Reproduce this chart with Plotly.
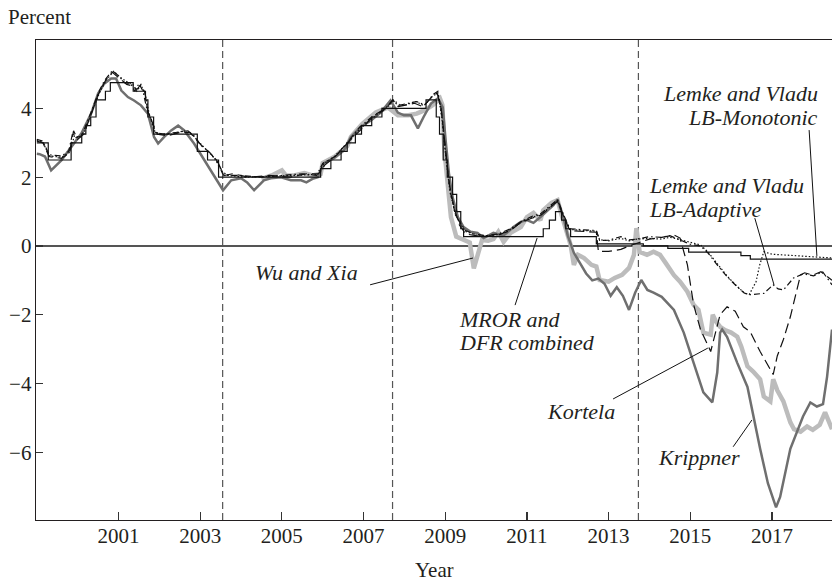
import plotly.graph_objects as go

# ---------------- data ----------------
x_ticks = [2001, 2003, 2005, 2007, 2009, 2011, 2013, 2015, 2017]
y_ticks = [-6, -4, -2, 0, 2, 4]
event_years = [2003.55, 2007.71, 2013.73]

kripp_year = [1999.0, 1999.07, 1999.2, 1999.35, 1999.6, 1999.84, 2000.09, 2000.33, 2000.5, 2000.65,
              2000.82, 2000.94, 2001.07, 2001.23, 2001.38, 2001.55, 2001.72, 2001.87, 2001.97, 2002.12,
              2002.29, 2002.46, 2002.61, 2002.85, 2003.1, 2003.35, 2003.56, 2003.76, 2004.0, 2004.15,
              2004.32, 2004.56, 2004.73, 2004.98, 2005.22, 2005.47, 2005.6, 2005.75, 2005.88, 2006.03,
              2006.27, 2006.52, 2006.69, 2006.93, 2007.18, 2007.42, 2007.66, 2007.84, 2007.99, 2008.16,
              2008.33, 2008.47, 2008.65, 2008.82, 2008.94, 2009.01, 2009.09, 2009.18, 2009.31, 2009.45,
              2009.62, 2009.79, 2009.94, 2010.18, 2010.43, 2010.67, 2010.85, 2011.0, 2011.16, 2011.33,
              2011.5, 2011.65, 2011.75, 2011.9, 2012.0, 2012.15, 2012.3, 2012.45, 2012.6, 2012.75,
              2012.9, 2013.05, 2013.2, 2013.35, 2013.5, 2013.65, 2013.8, 2013.95, 2014.1, 2014.3,
              2014.6, 2014.84, 2015.08, 2015.32, 2015.54, 2015.66, 2015.73, 2015.78, 2015.9, 2016.15,
              2016.4, 2016.54, 2016.71, 2016.9, 2017.1, 2017.2, 2017.45, 2017.76, 2017.94, 2018.1,
              2018.25, 2018.35, 2018.47]
kripp_val = [2.68, 2.67, 2.6, 2.2, 2.49, 2.87, 3.27, 3.85, 4.43, 4.72,
             4.87, 4.87, 4.52, 4.33, 4.23, 4.09, 3.85, 3.17, 2.98, 3.17,
             3.36, 3.5, 3.36, 2.98, 2.49, 2.0, 1.62, 1.91, 1.97, 1.85,
             1.62, 1.91, 1.97, 2.0, 1.91, 1.91, 1.85, 1.95, 2.0, 2.41,
             2.55, 2.78, 3.17, 3.46, 3.65, 3.88, 4.23, 3.88, 3.8, 3.8,
             3.42, 3.75, 4.14, 4.29, 4.03, 3.07, 2.12, 1.42, 0.84, 0.55,
             0.41, 0.38, 0.23, 0.38, 0.3, 0.55, 0.7, 0.75, 0.67, 0.84,
             1.04, 1.19, 1.35, 0.8, 0.3, -0.2, -0.5, -0.8, -1.0, -0.95,
             -1.1, -1.45, -1.2, -1.45, -1.86, -1.36, -0.99, -1.28, -1.36, -1.48,
             -1.86, -2.52, -3.39, -4.26, -4.55, -3.68, -2.52, -2.43, -2.64, -3.4,
             -4.1, -4.96, -5.9, -6.9, -7.6, -7.3, -5.9, -4.96, -4.55, -4.67,
             -4.6, -3.8, -2.43]

wuxia_year = [2004.5, 2004.75, 2005.0, 2005.1, 2005.3, 2005.55, 2005.75, 2005.95, 2006.0, 2006.3,
              2006.6, 2006.69, 2006.97, 2007.3, 2007.6, 2007.84, 2008.1, 2008.3, 2008.5, 2008.7,
              2008.87, 2008.93, 2008.98, 2009.06, 2009.14, 2009.27, 2009.48, 2009.6, 2009.7, 2009.78,
              2009.9, 2010.05, 2010.18, 2010.3, 2010.43, 2010.6, 2010.85, 2011.0, 2011.16, 2011.33,
              2011.4, 2011.6, 2011.75, 2011.85, 2011.95, 2012.07, 2012.15, 2012.25, 2012.4, 2012.58,
              2012.7, 2012.78, 2013.0, 2013.15, 2013.33, 2013.5, 2013.62, 2013.68, 2013.76, 2013.94,
              2014.1, 2014.26, 2014.4, 2014.6, 2014.75, 2014.93, 2015.08, 2015.2, 2015.32, 2015.5,
              2015.55, 2015.63, 2015.73, 2015.85, 2016.0, 2016.15, 2016.25, 2016.4, 2016.54, 2016.71,
              2016.8, 2016.96, 2017.03, 2017.13, 2017.28, 2017.45, 2017.54, 2017.7, 2017.86, 2018.0,
              2018.17, 2018.3, 2018.47]
wuxia_val = [1.95, 2.05, 2.2, 2.05, 2.05, 2.12, 2.05, 2.1, 2.41, 2.6,
             2.9, 3.17, 3.55, 3.88, 4.03, 3.8, 3.8, 3.85, 3.95, 4.1,
             4.29, 4.1, 2.78, 1.83, 0.84, 0.27, 0.17, 0.1, -0.65, -0.3,
             0.17, 0.15, 0.2, 0.41, 0.12, 0.38, 0.55, 0.84, 0.96, 0.75,
             1.04, 1.25, 1.33, 0.9, 0.52, 0.03, -0.55, -0.26, -0.35, -0.55,
             -0.6, -0.99, -1.04, -0.93, -0.84, -0.64, -0.26, 0.52, -0.17, -0.26,
             -0.17, -0.26, -0.5, -0.85, -1.04, -1.33, -1.71, -1.86, -2.52, -2.58,
             -2.0, -2.2, -2.35, -2.45, -2.52, -2.64, -2.93, -3.5, -3.65, -3.88,
             -4.38, -4.52, -3.88, -4.2, -4.52, -5.13, -5.33, -5.4, -5.25, -5.35,
             -5.2, -4.84, -5.33]

mror_year = [1999.0, 1999.28, 1999.84, 2000.1, 2000.2, 2000.32, 2000.45, 2000.68, 2000.8, 2001.36,
             2001.66, 2001.72, 2001.86, 2002.93, 2003.18, 2003.45, 2005.95, 2006.2, 2006.45, 2006.6,
             2006.8, 2006.95, 2007.2, 2007.45, 2008.53, 2008.78, 2008.86, 2008.95, 2009.05, 2009.18,
             2009.28, 2009.38, 2009.45, 2011.4, 2011.55, 2011.7, 2011.85, 2011.95, 2012.07, 2012.7,
             2013.85, 2014.45, 2014.96, 2016.24, 2016.47, 2018.47]
mror_val = [3.0, 2.5, 3.0, 3.25, 3.5, 3.75, 4.25, 4.5, 4.75, 4.5,
            4.25, 3.75, 3.25, 2.75, 2.5, 2.0, 2.25, 2.5, 2.75, 3.0,
            3.25, 3.5, 3.75, 4.0, 4.25, 3.75, 3.25, 2.5, 2.0, 1.5,
            1.0, 0.5, 0.27, 0.5, 0.75, 1.0, 0.75, 0.5, 0.27, 0.06,
            0.0, -0.07, -0.18, -0.28, -0.38, -0.38]

kortela_year = [1999.0, 1999.15, 1999.3, 1999.6, 1999.8, 1999.9, 2000.0, 2000.15, 2000.35, 2000.5,
                2000.7, 2000.85, 2001.0, 2001.2, 2001.35, 2001.45, 2001.55, 2001.65, 2001.72, 2001.85,
                2001.95, 2002.2, 2002.5, 2002.75, 2002.9, 2003.05, 2003.25, 2003.45, 2003.58, 2003.8,
                2004.2, 2004.7, 2005.2, 2005.6, 2005.9, 2006.05, 2006.35, 2006.65, 2006.95, 2007.25,
                2007.55, 2007.72, 2007.85, 2008.05, 2008.25, 2008.45, 2008.65, 2008.8, 2008.9, 2009.0,
                2009.1, 2009.22, 2009.35, 2009.5, 2009.75, 2010.0, 2010.3, 2010.6, 2010.85, 2011.1,
                2011.35, 2011.55, 2011.75, 2011.9, 2012.05, 2012.4, 2012.7, 2012.75, 2013.0, 2013.3,
                2013.5, 2013.75, 2014.0, 2014.3, 2014.6, 2014.75, 2014.82, 2014.93, 2015.08, 2015.25,
                2015.5, 2015.66, 2015.73, 2015.9, 2016.1, 2016.3, 2016.47, 2016.71, 2016.96, 2017.03,
                2017.13, 2017.28, 2017.45, 2017.62, 2017.7, 2017.8, 2018.0, 2018.2, 2018.47]
kortela_val = [3.05, 3.0, 2.6, 2.55, 2.7, 3.35, 3.1, 3.25, 3.9, 4.4,
               4.85, 5.05, 4.9, 4.7, 4.65, 4.55, 4.7, 4.45, 3.9, 3.5,
               3.25, 3.2, 3.3, 3.3, 3.1, 2.9, 2.7, 2.4, 2.05, 2.1,
               2.0, 2.05, 2.0, 2.1, 2.1, 2.35, 2.65, 3.05, 3.4, 3.8,
               4.0, 4.25, 4.05, 4.1, 4.15, 4.05, 4.3, 4.45, 4.0, 2.9,
               1.8, 1.1, 0.6, 0.35, 0.3, 0.28, 0.32, 0.45, 0.68, 0.8,
               0.9, 1.1, 1.3, 0.85, 0.45, 0.42, 0.4, -0.16, -0.16, -0.1,
               0.0, 0.1, 0.2, 0.25, 0.32, 0.23, -0.06, -0.55, -1.7, -2.43,
               -3.07, -2.35, -2.0, -1.77, -1.9, -2.35, -2.5, -3.07, -3.6, -3.74,
               -3.2, -2.72, -2.06, -1.28, -0.84, -0.78, -0.85, -0.75, -1.0]

lvad_year = [1999.0, 1999.15, 1999.3, 1999.6, 1999.78, 1999.88, 1999.95, 2000.1, 2000.3, 2000.5,
             2000.65, 2000.85, 2001.0, 2001.15, 2001.3, 2001.4, 2001.5, 2001.6, 2001.7, 2001.8,
             2001.9, 2002.1, 2002.4, 2002.7, 2002.85, 2003.0, 2003.2, 2003.4, 2003.55, 2003.65,
             2004.0, 2004.5, 2005.0, 2005.5, 2005.85, 2006.0, 2006.3, 2006.6, 2006.9, 2007.2,
             2007.5, 2007.72, 2007.9, 2008.1, 2008.3, 2008.5, 2008.7, 2008.82, 2008.92, 2009.02,
             2009.12, 2009.25, 2009.35, 2009.5, 2009.7, 2010.0, 2010.3, 2010.6, 2010.85, 2011.1,
             2011.35, 2011.55, 2011.75, 2011.9, 2012.05, 2012.4, 2012.7, 2012.78, 2013.0, 2013.3,
             2013.5, 2013.7, 2014.0, 2014.3, 2014.5, 2014.7, 2014.85, 2015.0, 2015.25, 2015.43,
             2015.68, 2015.92, 2016.16, 2016.32, 2016.44, 2016.6, 2016.8, 2017.03, 2017.15, 2017.28,
             2017.53, 2017.77, 2018.02, 2018.24, 2018.47]
lvad_val = [3.1, 3.05, 2.65, 2.62, 2.75, 3.3, 3.15, 3.2, 3.8, 4.43,
            4.8, 5.1, 4.95, 4.75, 4.72, 4.5, 4.72, 4.5, 3.95, 3.7,
            3.3, 3.25, 3.3, 3.35, 3.2, 2.95, 2.75, 2.5, 2.1, 2.05,
            2.05, 2.0, 2.05, 2.1, 2.05, 2.4, 2.6, 3.0, 3.45, 3.75,
            3.95, 4.25, 4.1, 4.15, 4.2, 4.1, 4.4, 4.5, 3.8, 2.6,
            1.6, 0.9, 0.7, 0.45, 0.35, 0.3, 0.35, 0.5, 0.7, 0.85,
            0.95, 1.15, 1.35, 0.9, 0.5, 0.47, 0.45, 0.16, 0.17, 0.27,
            0.18, 0.2, 0.27, 0.25, 0.3, 0.2, 0.12, 0.05, 0.0, -0.2,
            -0.58, -0.92, -1.2, -1.37, -1.42, -1.4, -1.38, -1.13, -1.25, -1.28,
            -0.93, -0.81, -0.87, -0.75, -1.13]

lvmono_year = [1999.0, 1999.15, 1999.3, 1999.6, 1999.8, 1999.92, 2000.05, 2000.2, 2000.4, 2000.55,
               2000.72, 2000.88, 2001.05, 2001.2, 2001.35, 2001.45, 2001.55, 2001.65, 2001.75, 2001.88,
               2002.0, 2002.3, 2002.6, 2002.8, 2002.95, 2003.15, 2003.35, 2003.55, 2003.7, 2004.1,
               2004.6, 2005.1, 2005.5, 2005.88, 2006.02, 2006.3, 2006.62, 2006.92, 2007.22, 2007.52,
               2007.72, 2007.88, 2008.08, 2008.28, 2008.48, 2008.68, 2008.82, 2008.92, 2009.02, 2009.12,
               2009.24, 2009.36, 2009.5, 2009.75, 2010.0, 2010.3, 2010.6, 2010.85, 2011.1, 2011.35,
               2011.55, 2011.75, 2011.9, 2012.05, 2012.4, 2012.7, 2012.78, 2013.0, 2013.3, 2013.5,
               2013.7, 2014.0, 2014.3, 2014.5, 2014.7, 2014.85, 2015.0, 2015.25, 2015.43, 2015.68,
               2015.92, 2016.16, 2016.32, 2016.44, 2016.61, 2016.7, 2016.8, 2017.0, 2017.5, 2018.0,
               2018.47]
lvmono_val = [3.08, 3.02, 2.62, 2.58, 2.72, 3.2, 3.15, 3.4, 4.05, 4.5,
              4.85, 5.08, 4.9, 4.78, 4.7, 4.5, 4.68, 4.42, 3.85, 3.35,
              3.25, 3.25, 3.35, 3.25, 3.05, 2.8, 2.55, 2.15, 2.05, 2.0,
              2.02, 2.05, 2.05, 2.08, 2.38, 2.62, 3.02, 3.42, 3.72, 3.97,
              4.2, 4.08, 4.12, 4.2, 4.08, 4.35, 4.45, 3.7, 2.5, 1.55,
              0.95, 0.65, 0.42, 0.32, 0.3, 0.33, 0.48, 0.7, 0.82, 0.92,
              1.12, 1.32, 0.88, 0.48, 0.45, 0.43, 0.18, 0.15, 0.22, 0.15,
              0.2, 0.22, 0.2, 0.25, 0.2, 0.15, 0.1, 0.03, -0.17, -0.55,
              -0.9, -1.19, -1.36, -1.42, -1.04, -0.55, -0.17, -0.24, -0.28, -0.3,
              -0.35]

# ---------------- figure ----------------
FONT = "Liberation Serif"
TXT = "#231f20"

fig = go.Figure()

fig.add_trace(go.Scatter(x=wuxia_year, y=wuxia_val, mode="lines", name="Wu and Xia",
                         line=dict(color="#bcbcbc", width=4.5)))
fig.add_trace(go.Scatter(x=kripp_year, y=kripp_val, mode="lines", name="Krippner",
                         line=dict(color="#6f6f6f", width=2.5)))
fig.add_trace(go.Scatter(x=mror_year, y=mror_val, mode="lines", name="MROR and DFR combined",
                         line=dict(color="#111111", width=1.2, shape="hv")))
fig.add_trace(go.Scatter(x=kortela_year, y=kortela_val, mode="lines", name="Kortela",
                         line=dict(color="#111111", width=1.2, dash="10px,5px")))
fig.add_trace(go.Scatter(x=lvad_year, y=lvad_val, mode="lines", name="Lemke and Vladu LB-Adaptive",
                         line=dict(color="#111111", width=1.2, dash="6px,3px,1.5px,3px")))
fig.add_trace(go.Scatter(x=lvmono_year, y=lvmono_val, mode="lines", name="Lemke and Vladu LB-Monotonic",
                         line=dict(color="#111111", width=1.2, dash="1.5px,2px")))

shapes = []
for ey in event_years:
    shapes.append(dict(type="line", xref="x", yref="paper", x0=ey, x1=ey, y0=0, y1=1,
                       line=dict(color="#555555", width=1.2, dash="7px,4px"), layer="below"))

# pointer lines (start/end in data coordinates)
pointers = [
    ((2007.16, -1.13), (2009.68, -0.35)),   # Wu and Xia
    ((2010.71, -1.72), (2011.25, 0.23)),    # MROR and DFR combined
    ((2013.11, -4.45), (2015.43, -2.97)),   # Kortela
    ((2016.05, -5.84), (2016.51, -5.06)),   # Krippner
    ((2016.58, 0.81), (2017.05, -1.13)),    # LB-Adaptive
    ((2017.91, 3.37), (2018.10, -0.29)),    # LB-Monotonic
]
for (x0, y0), (x1, y1) in pointers:
    shapes.append(dict(type="line", xref="x", yref="y", x0=x0, y0=y0, x1=x1, y1=y1,
                       line=dict(color="#111111", width=1)))

ann_font = dict(family=FONT, size=22, color=TXT, style="italic")
annotations = [
    dict(x=2005.61, y=-0.76, text="Wu and Xia", xanchor="center", yanchor="middle"),
    dict(x=2009.31, y=-2.15, text="MROR and", xanchor="left", yanchor="middle"),
    dict(x=2009.31, y=-2.82, text="DFR combined", xanchor="left", yanchor="middle"),
    dict(x=2012.32, y=-4.80, text="Kortela", xanchor="center", yanchor="middle"),
    dict(x=2015.21, y=-6.16, text="Krippner", xanchor="center", yanchor="middle"),
    dict(x=2013.96, y=1.76, text="Lemke and Vladu", xanchor="left", yanchor="middle"),
    dict(x=2013.96, y=1.06, text="LB-Adaptive", xanchor="left", yanchor="middle"),
    dict(x=2018.15, y=4.42, text="Lemke and Vladu", xanchor="right", yanchor="middle"),
    dict(x=2018.15, y=3.74, text="LB-Monotonic", xanchor="right", yanchor="middle"),
]
for a in annotations:
    a.update(xref="x", yref="y", showarrow=False, font=ann_font, borderpad=0)

annotations.append(dict(xref="paper", yref="paper", x=-0.0365, y=1.0475, text="Percent",
                        xanchor="left", yanchor="middle", showarrow=False, height=18, borderpad=0,
                        font=dict(family=FONT, size=21, color=TXT)))
annotations.append(dict(xref="paper", yref="paper", x=0.501, y=-0.104, text="Year",
                        xanchor="center", yanchor="middle", showarrow=False, height=18, borderpad=0,
                        font=dict(family=FONT, size=21, color=TXT)))

fig.update_layout(
    width=832, height=582,
    margin=dict(l=36, r=0, t=40, b=62, autoexpand=False),
    paper_bgcolor="white", plot_bgcolor="white",
    showlegend=False,
    font=dict(family=FONT, size=21, color=TXT),
    shapes=shapes,
    annotations=annotations,
)
fig.update_xaxes(range=[1998.98, 2018.47], tickvals=x_ticks, ticktext=[str(v) for v in x_ticks],
                 ticks="inside", ticklen=8, tickwidth=1.2, tickcolor="#333333",
                 showline=True, linecolor=TXT, linewidth=1.4, mirror=True, automargin=False,
                 showgrid=False, zeroline=False, ticklabelstandoff=-4)
fig.update_yaxes(range=[-7.97, 5.99], tickvals=y_ticks,
                 ticktext=[("\u2212" + str(abs(v))) if v < 0 else str(v) for v in y_ticks],
                 ticks="inside", ticklen=7, tickwidth=1.2, tickcolor="#333333",
                 showline=True, linecolor=TXT, linewidth=1.4, mirror=False, automargin=False,
                 showgrid=False, zeroline=True, zerolinecolor="#555555", zerolinewidth=1.5,
                 ticklabelstandoff=-1)

# remove the browser's default 8px page margin so the 832x582 figure fills the window exactly
fig.write_html("out.html",
               config={"displayModeBar": False, "staticPlot": True},
               post_script="document.body.style.margin='0';document.body.style.overflow='hidden';")
